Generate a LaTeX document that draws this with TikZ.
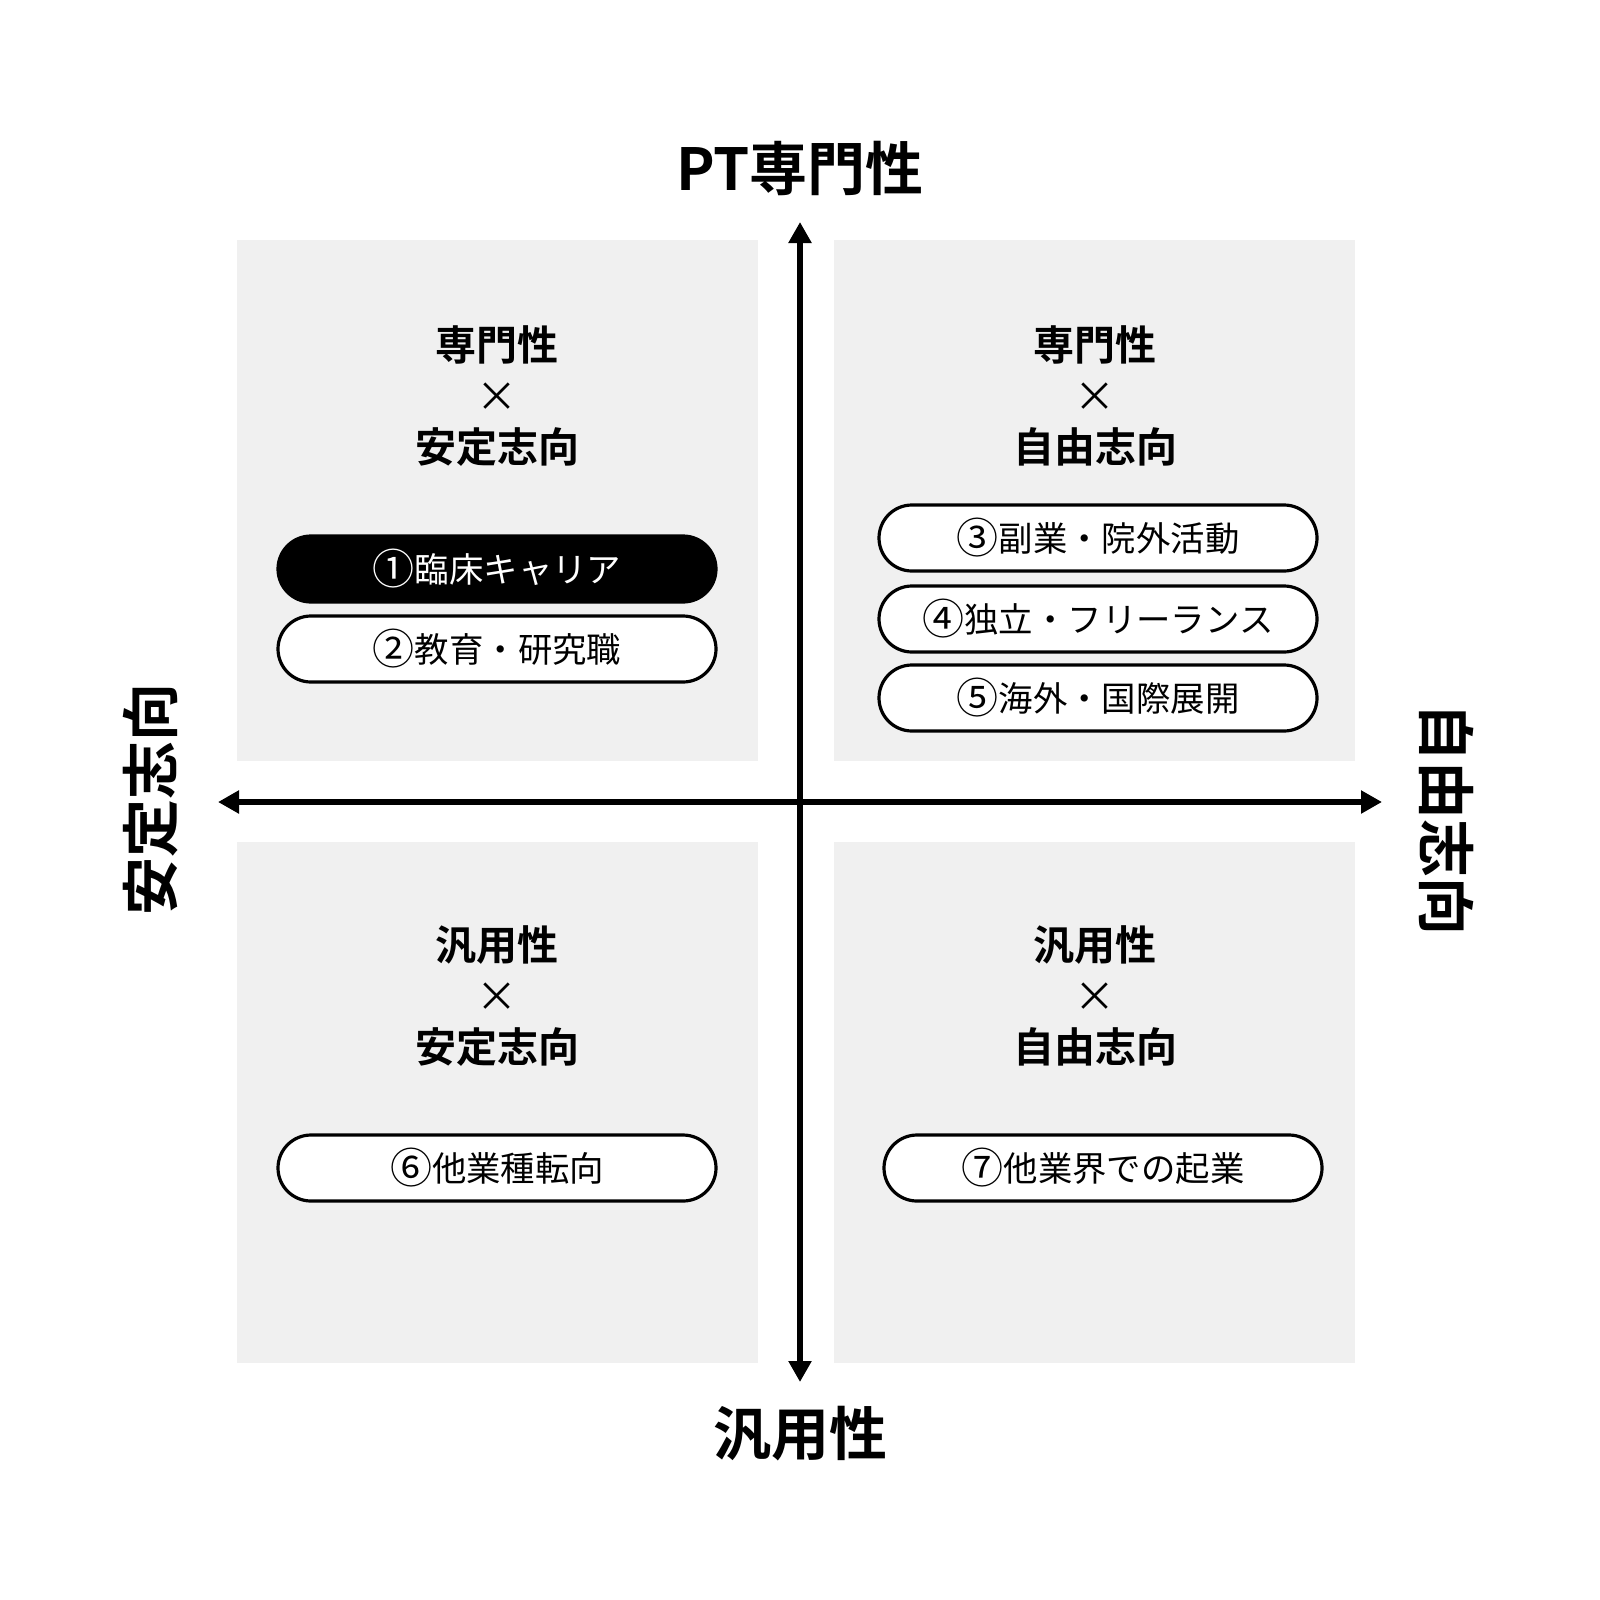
\documentclass[tikz,border=0pt]{standalone}
\usepackage{fontspec}
\setmainfont{Noto Sans CJK JP}[BoldFont={Noto Sans CJK JP Bold}]
\usetikzlibrary{arrows.meta}
\definecolor{boxgray}{RGB}{240,240,240}
\newcommand{\cnum}[1]{\raisebox{-1.4pt}{\fontsize{21}{20}\selectfont #1}}
\tikzset{
  quad/.style={fill=boxgray, draw=none},
  axis/.style={line width=3pt, {Triangle[length=10.5pt,width=11pt]}-{Triangle[length=10.5pt,width=11pt]}},
  axislabel/.style={font=\bfseries\fontsize{29}{34}\selectfont, inner sep=0pt},
  quadhead/.style={font=\bfseries\fontsize{20.5}{25.5}\selectfont, align=center, inner sep=0pt},
  pill/.style={draw=black, line width=1.6pt, fill=white, rounded corners=16.5pt,
    minimum width=219pt, minimum height=33pt, inner sep=0pt,
    font=\fontsize{17.2}{20}\selectfont},
  pilldark/.style={pill, fill=black, text=white}
}
\begin{document}
\begin{tikzpicture}[x=0.5pt, y=-0.5pt]
\useasboundingbox (0,0) rectangle (1600,1600);
% quadrants
\fill[quad] (237,240) rectangle (758,761);
\fill[quad] (834,240) rectangle (1355,761);
\fill[quad] (237,842) rectangle (758,1363);
\fill[quad] (834,842) rectangle (1355,1363);
% axes
\coordinate (top) at (800,222);
\coordinate (bottom) at (800,1382);
\coordinate (left) at (218,802);
\coordinate (right) at (1382,802);
\draw[axis] (bottom) -- (top);
\draw[axis] (left) -- (right);
% axis labels
\node[axislabel] (ttl) at (800,168) {PT専門性};
\node[axislabel] (btl) at (800,1434) {汎用性};
\node[axislabel, rotate=90] (ltl) at (151,799) {安定志向};
\node[axislabel, rotate=-90] (rtl) at (1447,819) {自由志向};
% quadrant headers
\node[quadhead] (h1) at (497,396) {専門性\\{\mdseries ×}\\安定志向};
\node[quadhead] (h2) at (1095,396) {専門性\\{\mdseries ×}\\自由志向};
\node[quadhead] (h3) at (497,996) {汎用性\\{\mdseries ×}\\安定志向};
\node[quadhead] (h4) at (1095,996) {汎用性\\{\mdseries ×}\\自由志向};
% pills
\node[pilldark] (p1) at (497,569) {\cnum{①}臨床キャリア};
\node[pill] (p2) at (497,649) {\cnum{②}教育・研究職};
\node[pill] (p3) at (1098,538) {\cnum{③}副業・院外活動};
\node[pill] (p4) at (1098,619) {\cnum{④}独立・フリーランス};
\node[pill] (p5) at (1098,698) {\cnum{⑤}海外・国際展開};
\node[pill] (p6) at (497,1168) {\cnum{⑥}他業種転向};
\node[pill] (p7) at (1103,1168) {\cnum{⑦}他業界での起業};
\end{tikzpicture}
\end{document}
